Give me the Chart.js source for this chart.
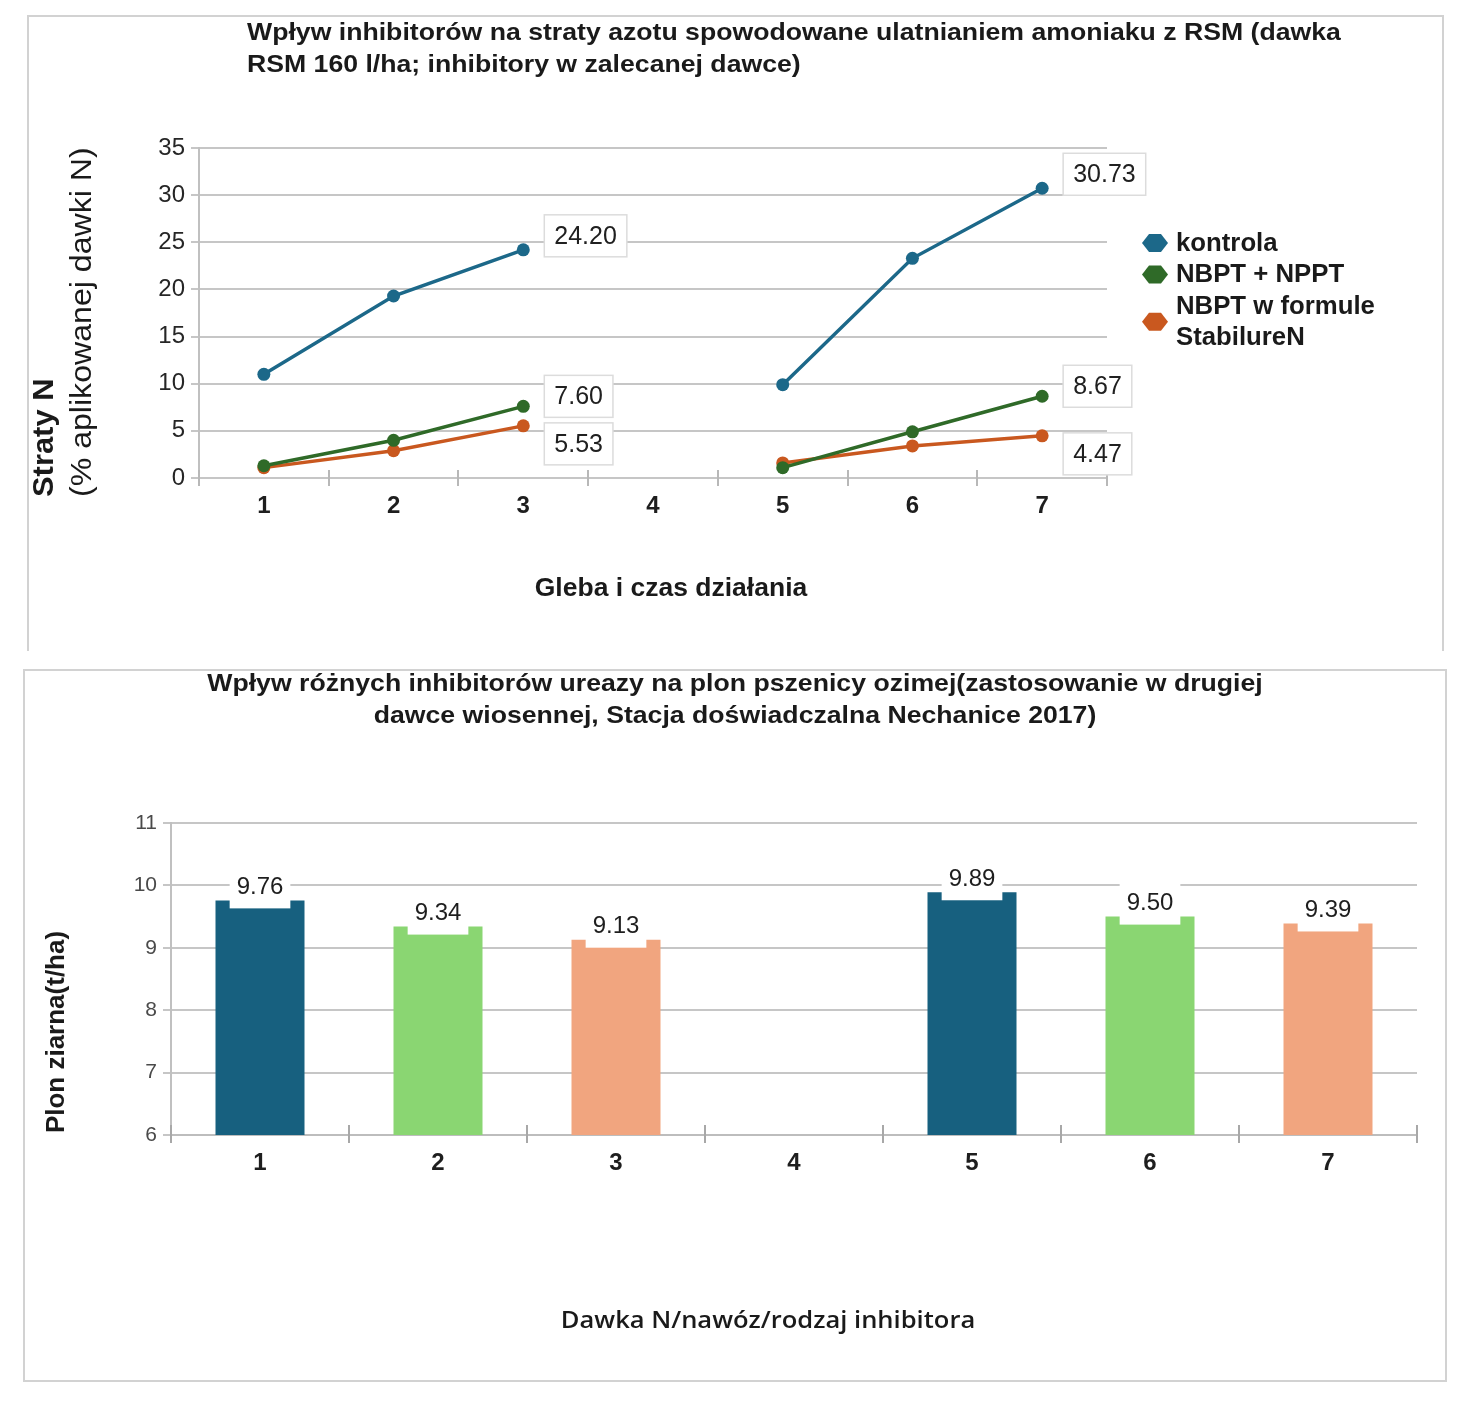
<!DOCTYPE html>
<html><head><meta charset="utf-8">
<script src="https://cdn.jsdelivr.net/npm/chart.js@4.4.1/dist/chart.umd.min.js"></script>
<style>
html,body{margin:0;padding:0;background:#fff;}
body{width:1466px;height:1402px;position:relative;overflow:hidden;font-family:"Liberation Sans",Arial,sans-serif;}
#box1{position:absolute;left:27px;top:15px;width:1413px;height:634px;border:2px solid #d2d2d2;border-bottom:none;}
#box2{position:absolute;left:23px;top:669px;width:1420px;height:709px;border:2px solid #d2d2d2;}
canvas{display:block;}
</style></head><body>
<div id="box1"><canvas id="c1" width="1413" height="634"></canvas></div>
<div id="box2"><canvas id="c2" width="1420" height="709"></canvas></div>
<script>
// ---------- data: chart 1 (line) ----------
const lossCategories = ['1','2','3','4','5','6','7'];
const kontrola      = [11.0, 19.3, 24.20, null, 9.9, 23.3, 30.73];
const nbptNppt      = [1.3, 4.0, 7.60, null, 1.1, 4.9, 8.67];
const nbptStabilure = [1.1, 2.9, 5.53, null, 1.6, 3.4, 4.47];
const lossSeriesNames = ['kontrola', 'NBPT + NPPT', 'NBPT w formule StabilureN'];
const lossLabelledIdx = [2, 6];
const lossYTicks = [0, 5, 10, 15, 20, 25, 30, 35];
const lossTitle = ['Wpływ inhibitorów na straty azotu spowodowane ulatnianiem amoniaku z RSM (dawka', 'RSM 160 l/ha; inhibitory w zalecanej dawce)'];
const lossYTitle = ['Straty N', '(% aplikowanej dawki N)'];
const lossXTitle = 'Gleba i czas działania';

// ---------- data: chart 2 (bar) ----------
const yieldCategories = ['1','2','3','4','5','6','7'];
const yieldValues = [9.76, 9.34, 9.13, null, 9.89, 9.50, 9.39];
const yieldYTicks = [6, 7, 8, 9, 10, 11];
const yieldTitle = ['Wpływ różnych inhibitorów ureazy na plon pszenicy ozimej(zastosowanie w drugiej', 'dawce wiosennej, Stacja doświadczalna Nechanice 2017)'];
const yieldYTitle = 'Plon ziarna(t/ha)';
const yieldXTitle = 'Dawka N/nawóz/rodzaj inhibitora';

const FONT = '"Liberation Sans", Arial, sans-serif';
const GRID = '#c6c6c6';

// generic text plugin
const textPlugin = {
  id: 'texts',
  afterDraw(chart, args, opts) {
    const ctx = chart.ctx;
    (opts.items || []).forEach(it => {
      ctx.save();
      ctx.font = it.font;
      ctx.fillStyle = it.color || '#1a1a1a';
      ctx.textBaseline = 'middle';
      ctx.textAlign = it.align || 'left';
      ctx.translate(it.x, it.y);
      if (it.rotate) ctx.rotate(it.rotate);
      if (it.sx) ctx.scale(it.sx, 1);
      ctx.fillText(it.text, 0, 0);
      ctx.restore();
    });
  }
};

// tick marks crossing the x axis at category boundaries
const crossTicks = {
  id: 'crossTicks',
  afterDatasetsDraw(chart, args, opts) {
    const xs = chart.scales.x, ctx = chart.ctx;
    const n = chart.data.labels.length;
    ctx.save();
    ctx.strokeStyle = opts.color; ctx.lineWidth = 2;
    for (let i = 0; i <= n; i++) {
      const x = Math.round(xs.left + i * (xs.width / n));
      ctx.beginPath(); ctx.moveTo(x, xs.top - opts.up); ctx.lineTo(x, xs.top + 1); ctx.stroke();
    }
    ctx.restore();
  }
};

// line chart value boxes
const lossLabels = {
  id: 'lossLabels',
  afterDatasetsDraw(chart, args, o) {
    const ctx = chart.ctx;
    ctx.save();
    ctx.font = o.font;
    chart.data.datasets.forEach((ds, di) => {
      const meta = chart.getDatasetMeta(di);
      o.indices.forEach(i => {
        const v = ds.data[i];
        if (v == null) return;
        const pt = meta.data[i];
        const txt = v.toFixed(2);
        const w = ctx.measureText(txt).width + 2 * o.padX;
        const h = o.boxH;
        const x = pt.x + o.dx;
        const cy = pt.y + o.dy[di];
        ctx.fillStyle = '#fff';
        ctx.fillRect(x, cy - h / 2, w, h);
        ctx.strokeStyle = o.border; ctx.lineWidth = 1.5;
        ctx.strokeRect(x, cy - h / 2, w, h);
        ctx.fillStyle = '#202020'; ctx.textAlign = 'left'; ctx.textBaseline = 'middle';
        ctx.fillText(txt, x + o.padX, cy + 1);
      });
    });
    ctx.restore();
  }
};

// custom legend for the line chart
const lossLegend = {
  id: 'lossLegend',
  afterDraw(chart, args, o) {
    const ctx = chart.ctx;
    ctx.save();
    ctx.font = o.font;
    ctx.textBaseline = 'middle'; ctx.textAlign = 'left';
    let y = o.y;
    chart.data.datasets.forEach(ds => {
      const words = ds.label.split(' ');
      const lines = []; let cur = '';
      words.forEach(wd => {
        const t = cur ? cur + ' ' + wd : wd;
        if (ctx.measureText(t).width > o.maxWidth && cur) { lines.push(cur); cur = wd; } else cur = t;
      });
      lines.push(cur);
      const my = y + (lines.length - 1) * o.lineH / 2;
      const cx = o.x;
      ctx.fillStyle = ds.borderColor;
      ctx.beginPath();
      ctx.moveTo(cx - 13, my); ctx.lineTo(cx - 6, my - 9); ctx.lineTo(cx + 6, my - 9);
      ctx.lineTo(cx + 13, my); ctx.lineTo(cx + 6, my + 9); ctx.lineTo(cx - 6, my + 9);
      ctx.closePath(); ctx.fill();
      ctx.fillStyle = '#1a1a1a';
      lines.forEach((ln, k) => {
        ctx.save();
        ctx.translate(o.textX, y + k * o.lineH + 1);
        ctx.scale(o.sx, 1);
        ctx.fillText(ln, 0, 0);
        ctx.restore();
      });
      y += lines.length * o.lineH;
    });
    ctx.restore();
  }
};

// bar value labels
const yieldLabels = {
  id: 'yieldLabels',
  afterDatasetsDraw(chart, args, o) {
    const ctx = chart.ctx;
    ctx.save(); ctx.font = o.font;
    chart.data.datasets.forEach((ds, di) => {
      const meta = chart.getDatasetMeta(di);
      meta.data.forEach((bar, i) => {
        const v = ds.data[i];
        if (v == null) return;
        const txt = v.toFixed(2);
        const w = ctx.measureText(txt).width + o.padX * 2;
        const cy = bar.y + o.dy;
        ctx.fillStyle = '#fff';
        ctx.fillRect(bar.x - w / 2, bar.y + o.below - o.boxH, w, o.boxH);
        ctx.fillStyle = '#1e1e1e'; ctx.textAlign = 'center'; ctx.textBaseline = 'middle';
        ctx.fillText(txt, bar.x, cy);
      });
    });
    ctx.restore();
  }
};

// ---------- chart 1 ----------
new Chart(document.getElementById('c1'), {
  type: 'line',
  data: {
    labels: lossCategories,
    datasets: [
      { label: lossSeriesNames[0], data: kontrola, borderColor: '#1c6889', backgroundColor: '#1c6889' },
      { label: lossSeriesNames[1], data: nbptNppt, borderColor: '#2f6a28', backgroundColor: '#2f6a28' },
      { label: lossSeriesNames[2], data: nbptStabilure, borderColor: '#c9581f', backgroundColor: '#c9581f' }
    ]
  },
  options: {
    responsive: false, animation: false,
    spanGaps: false,
    elements: {
      line: { borderWidth: 3.5, tension: 0 },
      point: { radius: 6.5, borderWidth: 0, hoverRadius: 6.5 }
    },
    layout: { padding: { top: 131, right: 335, left: 0, bottom: 123 } },
    scales: {
      x: {
        offset: true,
        afterFit(s) { s.height = 50; },
        grid: { offset: true, drawOnChartArea: false, drawTicks: true, tickLength: 8, color: '#b8b8b8', lineWidth: 2 },
        border: { color: GRID, width: 2 },
        ticks: { font: { family: FONT, size: 24, weight: 'bold' }, color: '#1e1e1e', padding: 6 }
      },
      y: {
        min: lossYTicks[0], max: lossYTicks[lossYTicks.length - 1],
        afterFit(s) { s.width = 170; },
        afterBuildTicks(s) { s.ticks = lossYTicks.map(v => ({ value: v })); },
        grid: { color: GRID, lineWidth: 2, tickLength: 8 },
        border: { color: '#c0c0c0', width: 2 },
        ticks: { font: { family: FONT, size: 24 }, color: '#262626', padding: 6 }
      }
    },
    plugins: {
      legend: { display: false },
      tooltip: { enabled: false },
      crossTicks: { color: '#b8b8b8', up: 8 },
      lossLabels: { indices: lossLabelledIdx, font: '25px ' + FONT, padX: 10, boxH: 42, dx: 21, dy: [-14, -10, 18], border: '#dcdcdc' },
      lossLegend: { x: 1126, textX: 1147, y: 226, lineH: 31.5, maxWidth: 215, sx: 1.03, font: 'bold 25px ' + FONT },
      texts: {
        items: [
          { text: lossTitle[0], x: 218, y: 16, sx: 1.11, font: 'bold 24px ' + FONT },
          { text: lossTitle[1], x: 218, y: 48, sx: 1.11, font: 'bold 24px ' + FONT },
          { text: lossYTitle[0], x: 16, y: 480, rotate: -Math.PI / 2, sx: 1.03, font: 'bold 30px ' + FONT },
          { text: lossYTitle[1], x: 54, y: 480, rotate: -Math.PI / 2, sx: 1.07, font: '30px ' + FONT },
          { text: lossXTitle, x: 642, y: 572, align: 'center', sx: 1.06, font: 'bold 25px ' + FONT }
        ]
      }
    }
  },
  plugins: [textPlugin, crossTicks, lossLabels, lossLegend]
});

// ---------- chart 2 ----------
new Chart(document.getElementById('c2'), {
  type: 'bar',
  data: {
    labels: yieldCategories,
    datasets: [{
      label: yieldYTitle,
      data: yieldValues,
      backgroundColor: ['#17607f', '#8ad672', '#f1a57f', '#17607f', '#17607f', '#8ad672', '#f1a57f'],
      barPercentage: 0.5, categoryPercentage: 1
    }]
  },
  options: {
    responsive: false, animation: false,
    layout: { padding: { top: 152, right: 28, left: 0, bottom: 195 } },
    scales: {
      x: {
        afterFit(s) { s.height = 50; },
        grid: { offset: true, drawOnChartArea: false, drawTicks: true, tickLength: 8, color: '#a8a8a8', lineWidth: 2 },
        border: { color: '#bdbdbd', width: 2 },
        ticks: { font: { family: FONT, size: 24, weight: 'bold' }, color: '#1e1e1e', padding: 6 }
      },
      y: {
        min: yieldYTicks[0], max: yieldYTicks[yieldYTicks.length - 1],
        afterFit(s) { s.width = 146; },
        afterBuildTicks(s) { s.ticks = yieldYTicks.map(v => ({ value: v })); },
        grid: { color: GRID, lineWidth: 2, tickLength: 8 },
        border: { color: '#c0c0c0', width: 2 },
        ticks: { font: { family: FONT, size: 21 }, color: '#4a4a4a', padding: 6 }
      }
    },
    plugins: {
      legend: { display: false },
      tooltip: { enabled: false },
      crossTicks: { color: '#a8a8a8', up: 10 },
      yieldLabels: { font: '24px ' + FONT, padX: 7, boxH: 42, below: 8, dy: -13 },
      texts: {
        items: [
          { text: yieldTitle[0], x: 710, y: 13, align: 'center', sx: 1.11, font: 'bold 24px ' + FONT },
          { text: yieldTitle[1], x: 710, y: 45, align: 'center', sx: 1.11, font: 'bold 24px ' + FONT },
          { text: yieldYTitle, x: 32, y: 361, align: 'center', rotate: -Math.PI / 2, font: 'bold 26px ' + FONT },
          { text: yieldXTitle, x: 743, y: 650, align: 'center', sx: 1.11, font: '600 23px "Open Sans", sans-serif' }
        ]
      }
    }
  },
  plugins: [textPlugin, crossTicks, yieldLabels]
});
</script>
</body></html>
